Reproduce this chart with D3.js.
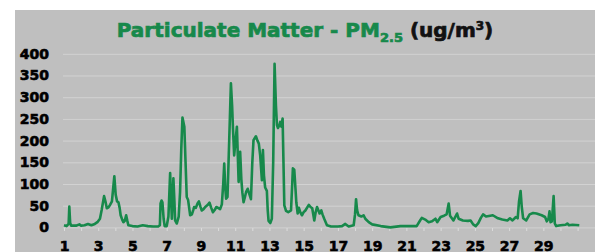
<!DOCTYPE html>
<html>
<head>
<meta charset="utf-8">
<script src="https://cdn.jsdelivr.net/npm/d3@7"></script>
<style>
  body { margin: 0; background: #fff; }
  svg { display: block; }
  .tick text { font-family: "DejaVu Sans", sans-serif; font-weight: bold; fill: #000; stroke: #000; stroke-width: 0.6px; }
</style>
</head>
<body>
<div id="chart"></div>
<script>
// time in days of the month (samples)
const days = [1.0, 1.15, 1.27, 1.31, 1.36, 1.42, 1.7, 1.9, 2.0, 2.2, 2.4, 2.6, 2.8, 2.95, 3.1, 3.2, 3.34, 3.42, 3.5, 3.6,
  3.69, 3.8, 3.94, 4.02, 4.1, 4.18, 4.25, 4.31, 4.4, 4.47, 4.55, 4.63, 4.7, 4.76, 5.0, 5.3, 5.6, 5.9, 6.2, 6.5,
  6.6, 6.64, 6.7, 6.75, 6.82, 6.88, 7.0, 7.1, 7.2, 7.27, 7.3, 7.39, 7.45, 7.49, 7.59, 7.7, 7.78, 7.85, 7.92, 8.03,
  8.1, 8.17, 8.25, 8.37, 8.47, 8.55, 8.6, 8.7, 8.8, 8.88, 8.97, 9.05, 9.15, 9.25, 9.4, 9.5, 9.6, 9.7, 9.8, 9.9,
  10.0, 10.12, 10.22, 10.3, 10.36, 10.42, 10.47, 10.55, 10.65, 10.75, 10.82, 10.87, 10.94, 11.02, 11.1, 11.2, 11.29, 11.36, 11.42, 11.49,
  11.57, 11.64, 11.73, 11.8, 11.92, 12.0, 12.07, 12.21, 12.3, 12.38, 12.46, 12.56, 12.62, 12.68, 12.75, 12.85, 12.9, 12.95, 13.05, 13.14,
  13.22, 13.3, 13.38, 13.44, 13.5, 13.58, 13.63, 13.7, 13.77, 13.82, 13.87, 13.97, 14.1, 14.26, 14.32, 14.37, 14.45, 14.52, 14.57, 14.65,
  14.72, 14.8, 14.9, 15.0, 15.1, 15.3, 15.4, 15.5, 15.62, 15.7, 15.78, 15.85, 15.93, 16.03, 16.1, 16.2, 16.36, 16.6, 17.0, 17.24,
  17.43, 17.63, 17.92, 18.0, 18.06, 18.12, 18.2, 18.37, 18.5, 18.6, 18.8, 19.0, 19.5, 20.06, 20.65, 21.1, 21.6, 21.8, 21.9, 22.1,
  22.3, 22.5, 22.7, 22.8, 23.0, 23.2, 23.35, 23.47, 23.55, 23.75, 23.96, 24.05, 24.3, 24.6, 24.75, 24.9, 25.05, 25.2, 25.35, 25.48,
  25.65, 25.9, 26.05, 26.35, 26.6, 26.9, 27.05, 27.2, 27.4, 27.5, 27.58, 27.67, 27.74, 27.82, 28.0, 28.2, 28.4, 28.6, 28.9, 29.1,
  29.2, 29.3, 29.36, 29.42, 29.5, 29.6, 29.67, 29.75, 30.0, 30.3, 30.4, 30.5, 30.7, 31.1];

const pm25 = [5, 3, 8, 48, 10, 4, 4, 7, 4, 5, 8, 5, 8, 12, 20, 40, 72, 60, 44, 46,
  52, 60, 118, 75, 60, 58, 45, 28, 18, 12, 15, 28, 15, 5, 3, 2, 5, 3, 2, 2,
  5, 55, 62, 58, 20, 3, 3, 25, 125, 50, 20, 113, 60, 16, 9, 25, 82, 180, 253, 232,
  150, 70, 63, 28, 30, 40, 47, 45, 55, 60, 48, 39, 42, 47, 52, 57, 45, 35, 40, 47,
  45, 42, 53, 100, 147, 90, 66, 70, 200, 332, 280, 228, 166, 200, 232, 105, 174, 110, 80, 58,
  70, 82, 89, 80, 65, 150, 201, 210, 200, 193, 166, 109, 178, 120, 92, 84, 40, 15, 10, 20,
  150, 377, 280, 236, 229, 235, 243, 232, 251, 150, 51, 38, 35, 39, 90, 136, 133, 90, 58, 32,
  45, 35, 28, 35, 39, 52, 47, 44, 16, 35, 47, 40, 32, 39, 30, 20, 5, 2, 2, 3,
  8, 2, 5, 30, 65, 40, 28, 25, 28, 20, 12, 7, 3, 0, 3, 3, 3, 16, 22, 18,
  12, 14, 20, 12, 24, 27, 30, 55, 27, 16, 32, 20, 16, 15, 16, 7, 3, 10, 22, 30,
  25, 27, 28, 21, 18, 16, 21, 16, 24, 21, 60, 84, 47, 21, 16, 30, 33, 32, 28, 24,
  14, 20, 37, 12, 14, 72, 9, 3, 5, 6, 9, 5, 6, 5];

const yTicks = [0, 50, 100, 150, 200, 250, 300, 350, 400];
const xLabels = [1, 3, 5, 7, 9, 11, 13, 15, 17, 19, 21, 23, 25, 27, 29];
const xDays = d3.range(1, 32);

const width = 595, height = 252;
const green = "#17894b";

const svg = d3.select("#chart").append("svg")
  .attr("width", width)
  .attr("height", height);

svg.append("rect")
  .attr("x", 15).attr("y", 10)
  .attr("width", width - 15).attr("height", height - 10)
  .attr("fill", "#bfbfbf");

const x = d3.scaleLinear().domain([1, 32]).range([64, 594.7]);
const y = d3.scaleLinear().domain([0, 400]).range([227.4, 53.8]);

// gridlines
svg.append("g")
  .attr("transform", "translate(63,0)")
  .call(d3.axisLeft(y).tickValues(yTicks).tickSize(-(width - 63)).tickFormat(""))
  .call(g => g.select(".domain").remove())
  .call(g => g.selectAll("line").attr("stroke", "#d2d2d2").attr("stroke-width", 1));

// y labels
svg.append("g")
  .attr("transform", "translate(49,0)")
  .call(d3.axisLeft(y).tickValues(yTicks).tickSize(0).tickPadding(0))
  .call(g => g.select(".domain").remove())
  .call(g => g.selectAll("text").style("font-size", "14px"));

// small day ticks
svg.append("g")
  .attr("transform", "translate(0,228)")
  .call(d3.axisBottom(x).tickValues(xDays).tickSize(3).tickFormat(""))
  .call(g => g.select(".domain").remove())
  .call(g => g.selectAll("line").attr("stroke", "#dcdcdc"));

// x labels
svg.append("g")
  .attr("transform", "translate(0,250.5)")
  .call(d3.axisBottom(x).tickValues(xLabels).tickSize(0).tickPadding(0).tickFormat(d3.format("d")))
  .call(g => g.select(".domain").remove())
  .call(g => g.selectAll("text").style("font-size", "14px").attr("y", 0).attr("dy", 0));

const line = d3.line()
  .x((d, i) => x(days[i]))
  .y(d => y(d));

svg.append("path")
  .datum(pm25)
  .attr("d", line)
  .attr("fill", "none")
  .attr("stroke", green)
  .attr("stroke-width", 2.6)
  .attr("stroke-linejoin", "round");

// title
const title = svg.append("text")
  .attr("x", 305)
  .attr("y", 37)
  .attr("text-anchor", "middle")
  .style("font-family", "'DejaVu Sans', sans-serif")
  .style("font-weight", "bold")
  .style("font-size", "20px")
  .style("stroke-width", "0.7px");

title.append("tspan").attr("fill", green).attr("stroke", green).text("Particulate Matter - PM");
title.append("tspan").attr("fill", green).attr("stroke", green).attr("dy", 5).style("font-size", "13px").text("2.5");
title.append("tspan").attr("fill", "#111").attr("stroke", "#111").attr("dy", -5).text(" (ug/m");
title.append("tspan").attr("fill", "#111").attr("stroke", "#111").attr("dy", -7).style("font-size", "12px").text("3");
title.append("tspan").attr("fill", "#111").attr("stroke", "#111").attr("dy", 7).text(")");
</script>
</body>
</html>
